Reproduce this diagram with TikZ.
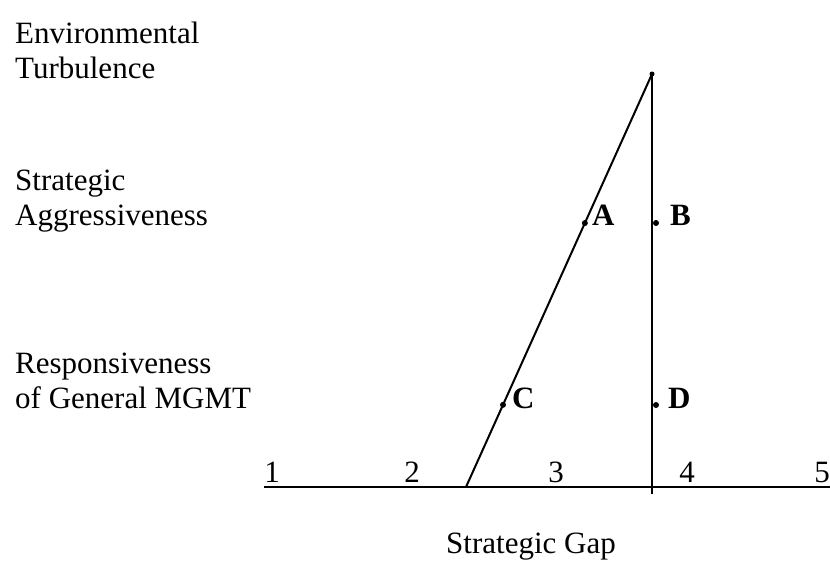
\documentclass[tikz,border=0pt]{standalone}
\usepackage{fontspec}
\setmainfont{Liberation Serif}
\begin{document}
\begin{tikzpicture}[x=1pt,y=-1pt,
            dot/.style={circle, fill, minimum size=6pt, inner sep=0pt},
            side/.style={anchor=base west, align=left, inner sep=0pt, font=\fontsize{31}{35}\selectfont},
            tick/.style={anchor=base, inner sep=0pt, font=\fontsize{31}{35}\selectfont},
            point/.style={anchor=base west, inner sep=0pt, font=\fontsize{31}{35}\selectfont\bfseries}
            ]
            \useasboundingbox (0,0) rectangle (830,561);

            % left labels, anchored at the baseline of their last line
            \node[side] (env) at (15,79) {Environmental\\Turbulence};
            \node[side] (agg) at (15,226) {Strategic\\Aggressiveness};
            \node[side] (resp) at (15,408) {Responsiveness\\of General MGMT};

            \coordinate (left) at (264,487);
            \coordinate (right) at (830,487);
            \coordinate (foot) at (466,487);
            \coordinate (base) at (652,494);
            \node[dot, minimum size=5pt] (top) at (652,74) {};

            \draw[line width=2.2pt] (left) -- (right);
            \draw[line width=2pt] (foot) -- (top.center);
            \draw[line width=2pt] (top.center) -- (base);

            \path (top.center) -- (foot) node[dot, pos=0.361] (a) {} node[dot, pos=0.801] (c) {};
            \node[dot] (b) at (656,223) {};
            \node[dot] (d) at (656,405) {};

            \node[point] (la) at (592,226) {A};
            \node[point] (lb) at (670,226) {B};
            \node[point] (lc) at (512,408) {C};
            \node[point] (ld) at (668,408) {D};

            \node[tick] (t1) at (272,482) {1};
            \node[tick] (t2) at (412,482) {2};
            \node[tick] (t3) at (556,482) {3};
            \node[tick] (t4) at (687,482) {4};
            \node[tick] (t5) at (822,482) {5};

            \node[tick] (gap) at (531,553) {Strategic Gap};
\end{tikzpicture}
\end{document}
